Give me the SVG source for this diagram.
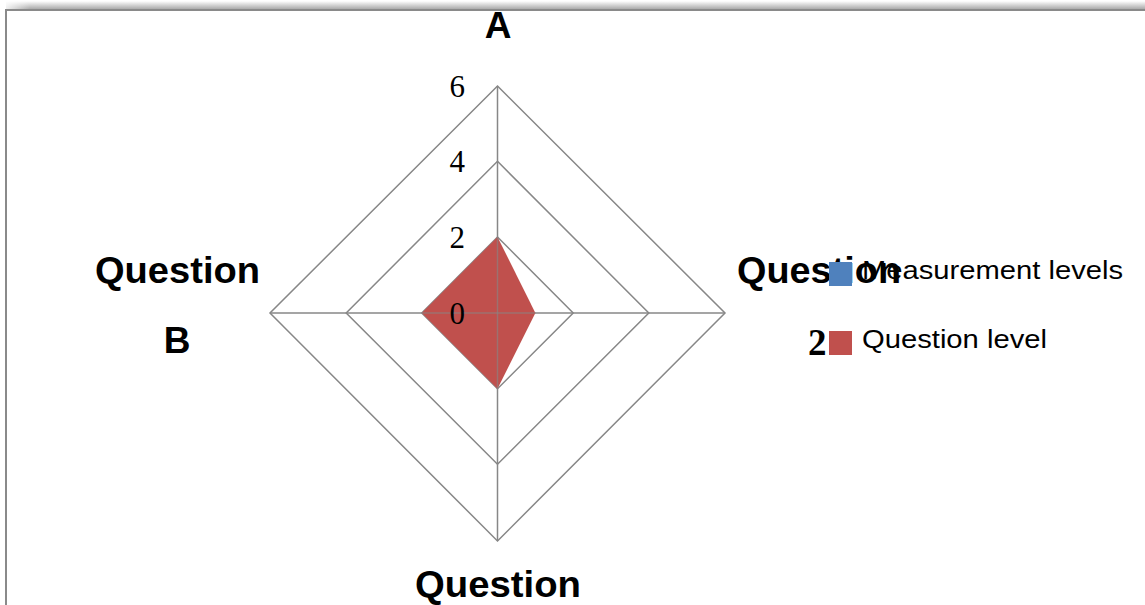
<svg xmlns="http://www.w3.org/2000/svg" width="1145" height="605" viewBox="0 0 1145 605">
<defs>
<linearGradient id="shadow" x1="0" y1="0" x2="0" y2="1">
<stop offset="0" stop-color="#ffffff"/>
<stop offset="1" stop-color="#a0a0a0"/>
</linearGradient>
<linearGradient id="shadowL" x1="0" y1="0" x2="1" y2="0">
<stop offset="0" stop-color="#ffffff" stop-opacity="1"/>
<stop offset="1" stop-color="#ffffff" stop-opacity="0"/>
</linearGradient>
</defs>
<style>
.grid{fill:none;stroke:#878787;stroke-width:1.5}
.cat{font-family:"Liberation Sans",Arial,sans-serif;font-weight:bold;font-size:37px;fill:#000}
.num{font-family:"Liberation Serif","Times New Roman",serif;font-size:31px;fill:#000}
.leg{font-family:"Liberation Sans",Arial,sans-serif;font-size:26px;fill:#000}
</style>
<rect width="1145" height="605" fill="#fff"/>
<g id="frame">
<rect x="6" y="1" width="1139" height="9" fill="url(#shadow)"/>
<rect x="0" y="0" width="30" height="10" fill="url(#shadowL)"/>
<line x1="6" y1="10" x2="1145" y2="10" stroke="#8a8a8a" stroke-width="2"/>
<line x1="6" y1="9" x2="6" y2="605" stroke="#8a8a8a" stroke-width="2"/>
</g>
<g id="connectors">
<polygon class="grid" points="497.5,237 573.2,313 497.5,388.7 421.8,313"/>
<polygon class="grid" points="497.5,161.3 648.8,313 497.5,464.3 346.2,313"/>
<polygon class="grid" points="497.5,86 725,313 497.5,541 270,313"/>
<line class="grid" x1="497.5" y1="86" x2="497.5" y2="541"/>
<line class="grid" x1="270" y1="313" x2="725" y2="313"/>
</g>
<g id="series-question-level">
<polygon points="497.5,237 535.4,313 497.5,388.7 421.8,313" fill="#c0504d"/>
<line x1="497.5" y1="237" x2="497.5" y2="388.7" stroke="#878787" stroke-width="1.5" opacity="0.6"/>
<line x1="421.8" y1="313" x2="535.4" y2="313" stroke="#878787" stroke-width="1.5" opacity="0.6"/>
</g>
<g id="axis-values">
<text class="num" x="465" y="97" text-anchor="end">6</text>
<text class="num" x="465" y="172" text-anchor="end">4</text>
<text class="num" x="465" y="248" text-anchor="end">2</text>
<text class="num" x="465" y="324" text-anchor="end">0</text>
</g>
<g id="label-a">
<text class="cat" x="498" y="38" text-anchor="middle">A</text>
</g>
<g id="label-b">
<text class="cat" x="95" y="283" textLength="165" lengthAdjust="spacingAndGlyphs">Question</text>
<text class="cat" x="177" y="353" text-anchor="middle">B</text>
</g>
<g id="label-bottom">
<text class="cat" x="415" y="597" textLength="166" lengthAdjust="spacingAndGlyphs">Question</text>
</g>
<g id="label-2">
<text class="cat" x="737" y="283" textLength="164" lengthAdjust="spacingAndGlyphs">Question</text>
<text x="808" y="355" font-family="Liberation Serif,'Times New Roman',serif" font-weight="bold" font-size="37" fill="#000">2</text>
</g>
<g id="legend">
<rect x="829" y="262" width="23" height="24" fill="#4f81bd"/>
<text class="leg" x="862" y="279" textLength="261" lengthAdjust="spacingAndGlyphs">Measurement levels</text>
<rect x="829" y="331" width="23" height="24" fill="#c0504d"/>
<text class="leg" x="862" y="348" textLength="185" lengthAdjust="spacingAndGlyphs">Question level</text>
</g>
</svg>
